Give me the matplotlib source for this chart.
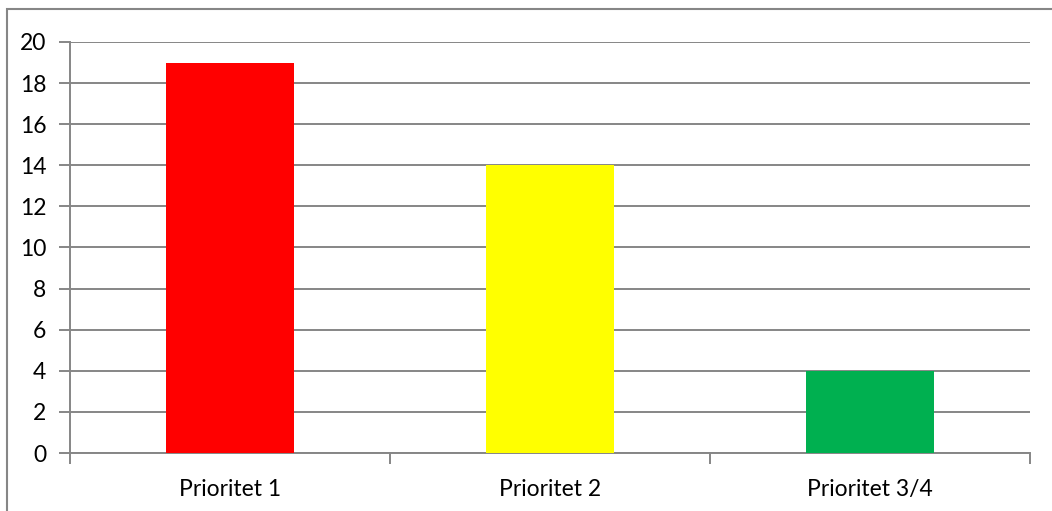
import matplotlib.pyplot as plt
from matplotlib.patches import Rectangle

categorias = ['Prioritet 1', 'Prioritet 2', 'Prioritet 3/4']
valores = [19, 14, 4]
cores = ['#ff0000', '#ffff00', '#00b050']
ticks_y = [0, 2, 4, 6, 8, 10, 12, 14, 16, 18, 20]

plt.rcParams['font.family'] = ['Lato', 'DejaVu Sans']

fig = plt.figure(figsize=(10.52, 5.11), dpi=100)
ax = fig.add_axes([70 / 1052, 1 - 453 / 511, 960 / 1052, 411 / 511])

# moldura externa do gráfico
fig.patches.append(Rectangle((7 / 1052, -0.01), 1.1, 1 - 9.5 / 511 + 0.01,
                             transform=fig.transFigure, fill=False,
                             edgecolor='#868686', lw=1.5))

x = range(len(categorias))
ax.bar(x, valores, width=0.4, color=cores, zorder=3)

ax.set_xlim(-0.5, len(categorias) - 0.5)
ax.set_ylim(0, 20)
ax.set_yticks(ticks_y)
ax.set_xticks(list(x))
ax.set_xticklabels(categorias)
ax.set_xticks([i - 0.5 for i in range(len(categorias) + 1)], minor=True)

ax.grid(axis='y', color='#868686', lw=1.4, zorder=0)
for lado in ['top', 'right']:
    ax.spines[lado].set_visible(False)
for lado in ['left', 'bottom']:
    ax.spines[lado].set_color('#868686')
    ax.spines[lado].set_linewidth(1.4)

ax.tick_params(axis='y', length=8, width=1.4, color='#868686', labelsize=16.5, pad=9)
ax.tick_params(axis='x', which='major', length=0, labelsize=16.5, pad=19)
ax.tick_params(axis='x', which='minor', length=8, width=1.4, color='#868686')

fig.savefig('out.png', dpi=100)
